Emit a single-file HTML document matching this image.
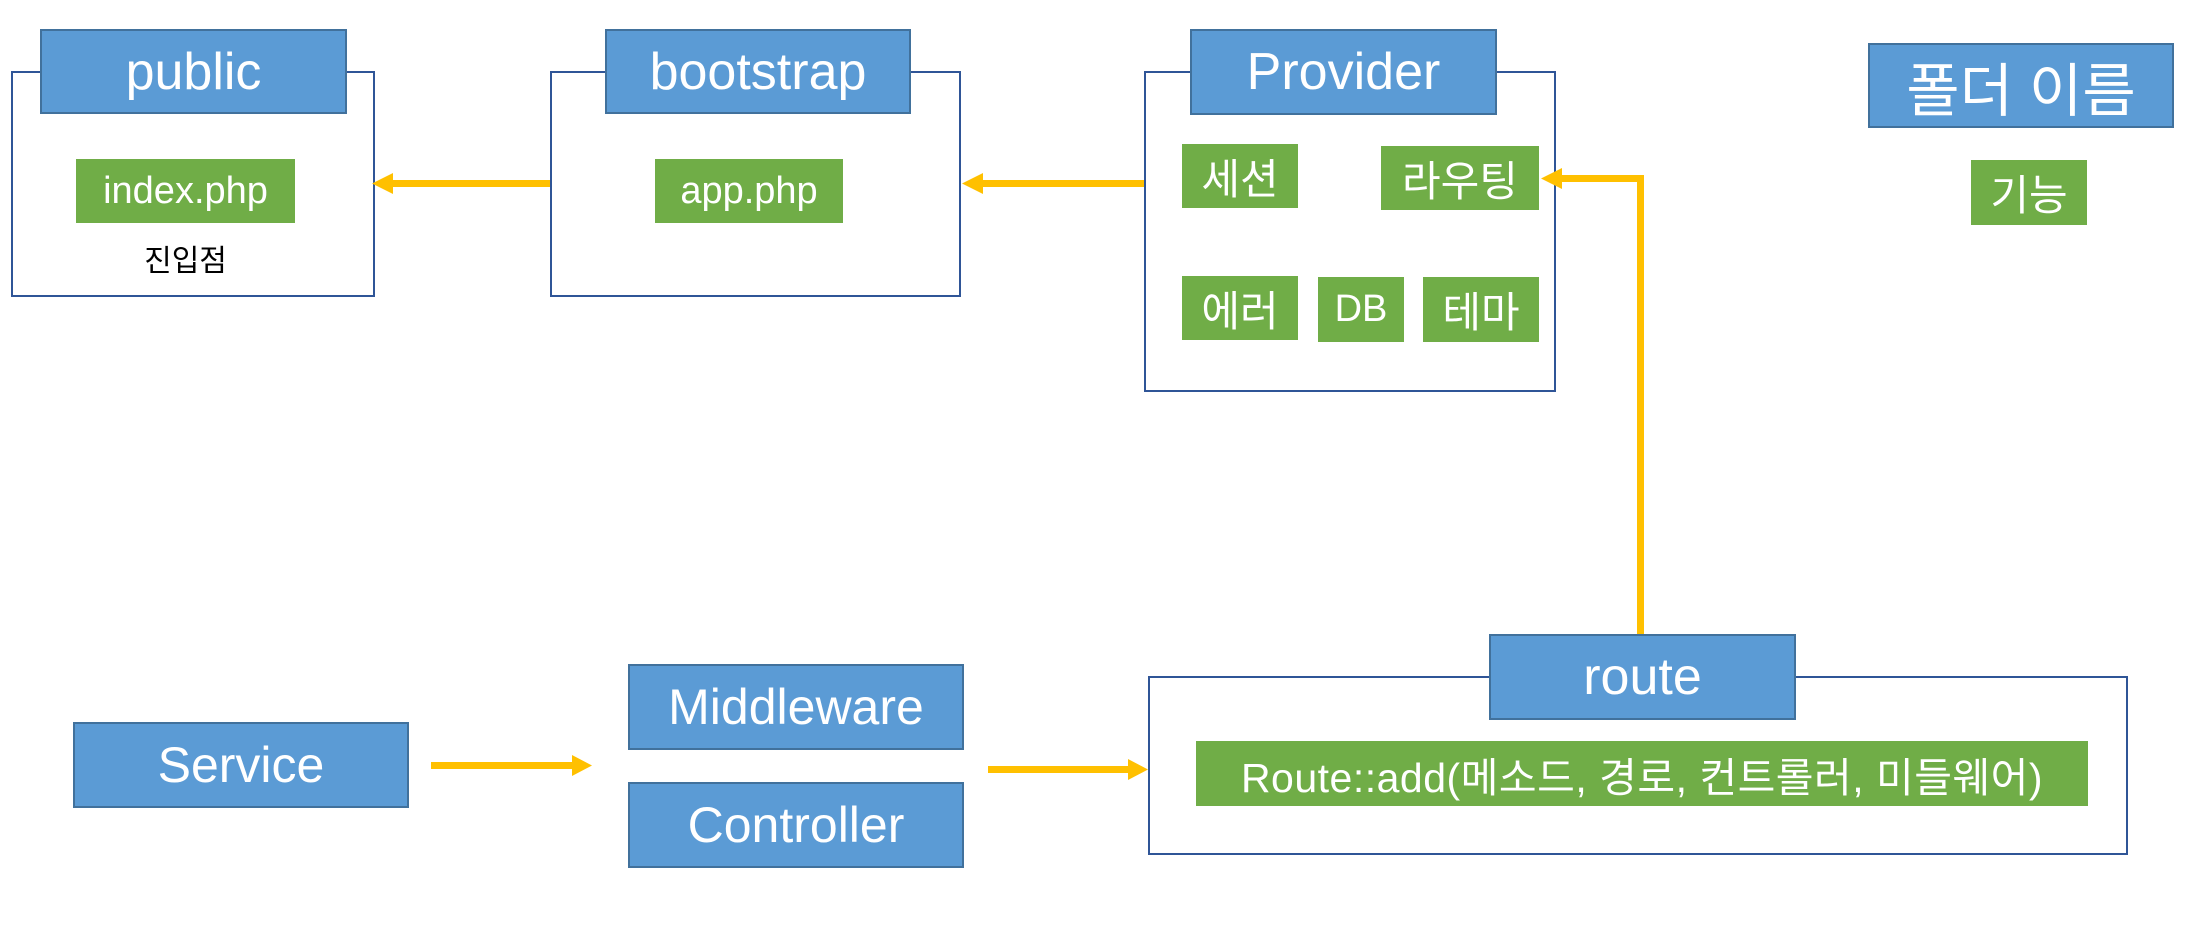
<!DOCTYPE html>
<html><head><meta charset="utf-8"><style>
body{margin:0;width:2202px;height:925px;background:#fff;position:relative;overflow:hidden;font-family:"Liberation Sans","Noto Sans CJK KR",sans-serif;}
div{position:absolute;box-sizing:border-box;}
.o{border:2px solid #2f5597;background:#fff;}
.b{background:#5b9bd5;border:2px solid #41719c;color:#fff;display:flex;align-items:center;justify-content:center;font-size:52px;}
.g{background:#70ad47;color:#fff;display:flex;align-items:center;justify-content:center;font-size:38px;}
.k{font-size:42px;}
svg{position:absolute;left:0;top:0;}
</style></head><body>
<div class="o" style="left:11px;top:71px;width:364px;height:226px"></div>
<div class="b" style="left:40px;top:29px;width:307px;height:85px">public</div>
<div class="g" style="left:76px;top:159px;width:219px;height:64px">index.php</div>
<div style="left:76px;top:236px;width:219px;text-align:center;font-size:30px;color:#000">진입점</div>

<div class="o" style="left:550px;top:71px;width:411px;height:226px"></div>
<div class="b" style="left:605px;top:29px;width:306px;height:85px">bootstrap</div>
<div class="g" style="left:655px;top:159px;width:188px;height:64px">app.php</div>

<div class="o" style="left:1144px;top:71px;width:412px;height:321px"></div>
<div class="b" style="left:1190px;top:29px;width:307px;height:86px">Provider</div>
<div class="g k" style="left:1182px;top:144px;width:116px;height:64px">세션</div>
<div class="g k" style="left:1381px;top:146px;width:158px;height:64px">라우팅</div>
<div class="g k" style="left:1182px;top:276px;width:116px;height:64px">에러</div>
<div class="g" style="left:1318px;top:277px;width:86px;height:65px">DB</div>
<div class="g k" style="left:1423px;top:277px;width:116px;height:65px">테마</div>

<div class="b" style="left:1868px;top:43px;width:306px;height:85px;font-size:58px">폴더 이름</div>
<div class="g k" style="left:1971px;top:160px;width:116px;height:65px">기능</div>

<div class="b" style="left:73px;top:722px;width:336px;height:86px;font-size:50px">Service</div>
<div class="b" style="left:628px;top:664px;width:336px;height:86px;font-size:50px">Middleware</div>
<div class="b" style="left:628px;top:782px;width:336px;height:86px;font-size:50px">Controller</div>

<div class="o" style="left:1148px;top:676px;width:980px;height:179px"></div>
<div class="b" style="left:1489px;top:634px;width:307px;height:86px">route</div>
<div class="g" style="left:1196px;top:741px;width:892px;height:65px;font-size:41px;letter-spacing:0.5px">Route::add(메소드, 경로, 컨트롤러, 미들웨어)</div>

<svg width="2202" height="925">
<g fill="#ffc000" stroke="none">
<rect x="392" y="180" width="158" height="7"/><polygon points="372,183.5 393,173 393,194"/>
<rect x="982" y="180" width="162" height="7"/><polygon points="962,183.5 983,173 983,194"/>
<rect x="1561" y="175" width="83" height="7"/><polygon points="1541,178.5 1562,168 1562,189"/>
<rect x="1637" y="175" width="7" height="459"/>
<rect x="431" y="762" width="142" height="7"/><polygon points="592,765.5 572,755 572,776"/>
<rect x="988" y="766" width="142" height="7"/><polygon points="1148,769.5 1128,759 1128,780"/>
</g>
</svg>
</body></html>
